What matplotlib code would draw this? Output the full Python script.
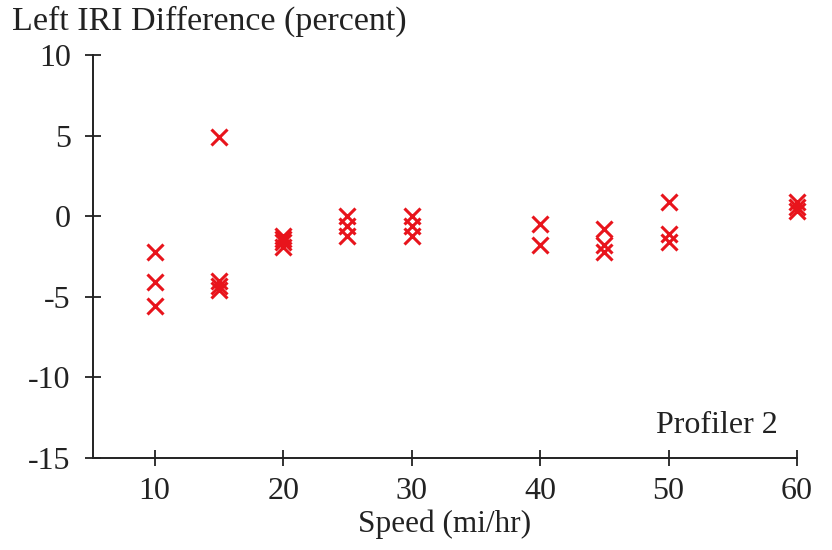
import matplotlib.pyplot as plt

# speed (mi/hr) and left IRI difference (percent)
speed = [10, 10, 10,
         15, 15, 15, 15,
         20, 20, 20, 20,
         25, 25, 25,
         30, 30, 30,
         40, 40,
         45, 45, 45,
         50, 50, 50,
         60, 60, 60]
diff = [-2.2, -4.1, -5.6,
        4.9, -4.0, -4.3, -4.6,
        -1.2, -1.4, -1.6, -1.9,
        0.0, -0.6, -1.2,
        0.0, -0.6, -1.2,
        -0.5, -1.8,
        -0.8, -1.8, -2.2,
        0.9, -1.1, -1.6,
        0.9, 0.6, 0.3]

x_ticks = [10, 20, 30, 40, 50, 60]
y_ticks = [-15, -10, -5, 0, 5, 10]

plt.rcParams['font.family'] = ['Liberation Serif', 'DejaVu Serif']
plt.rcParams['axes.unicode_minus'] = False

fig = plt.figure(figsize=(8.32, 5.5), dpi=100)
ax = fig.add_axes([0.1118, 0.1673, 0.958 - 0.1118, 0.9 - 0.1673])

ax.plot(speed, diff, linestyle='none', marker='x', color='#e8141c',
        markersize=11, markeredgewidth=2.2, clip_on=False)

ax.set_xlim(5.2, 60)
ax.set_ylim(-15, 10)
ax.set_xticks(x_ticks)
ax.set_yticks(y_ticks)
ax.tick_params(direction='inout', length=12, width=1.3, labelsize=23,
               colors='#222222')
ax.tick_params(axis='x', pad=8)
ax.tick_params(axis='y', pad=10)

for s in ['top', 'right']:
    ax.spines[s].set_visible(False)
for s in ['left', 'bottom']:
    ax.spines[s].set_linewidth(1.4)
    ax.spines[s].set_color('#222222')

ax.set_xlabel('Speed (mi/hr)', fontsize=22.5, labelpad=2, color='#222222')
fig.text(0.015, 0.962, 'Left IRI Difference (percent)', fontsize=24.5,
         color='#222222', va='center', ha='left')
ax.text(58.5, -13.0, 'Profiler 2', fontsize=23, ha='right', va='center',
        color='#222222')

fig.savefig('out.png', dpi=100)
